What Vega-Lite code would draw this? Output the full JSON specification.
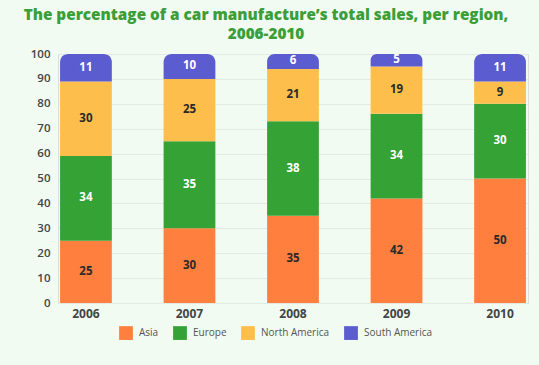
{
  "$schema": "https://vega.github.io/schema/vega-lite/v6.json",
  "width": 470,
  "height": 249,
  "autosize": {"type": "none"},
  "padding": {"left": 58, "top": 54, "right": 11, "bottom": 62},
  "background": "#f1fbf1",
  "config": {
    "axis": {"labelOverlap": false, "labelSeparation": 0, "labelBound": false},
    "axisY": {
      "title": null,
      "domain": false,
      "ticks": false,
      "labelPadding": 8,
      "gridColor": "#e3e9e3",
      "gridWidth": 1,
      "labelFont": "Open Sans",
      "labelFontSize": 11.5,
      "labelFontWeight": 600,
      "labelColor": "#444444"
    }
  },
  "title": {
    "text": ["The percentage of a car manufacture’s total sales, per region,", "2006-2010"],
    "anchor": "middle",
    "frame": "group",
    "dx": -27,
    "offset": 6,
    "font": "Open Sans",
    "fontSize": 15.3,
    "fontWeight": 800,
    "color": "#3a9f3a",
    "lineHeight": 19
  },
  "data": {
    "values": [
      {"year": "2006", "region": "Asia", "order": 1, "value": 25},
      {"year": "2006", "region": "Europe", "order": 2, "value": 34},
      {"year": "2006", "region": "North America", "order": 3, "value": 30},
      {"year": "2006", "region": "South America", "order": 4, "value": 11},
      {"year": "2007", "region": "Asia", "order": 1, "value": 30},
      {"year": "2007", "region": "Europe", "order": 2, "value": 35},
      {"year": "2007", "region": "North America", "order": 3, "value": 25},
      {"year": "2007", "region": "South America", "order": 4, "value": 10},
      {"year": "2008", "region": "Asia", "order": 1, "value": 35},
      {"year": "2008", "region": "Europe", "order": 2, "value": 38},
      {"year": "2008", "region": "North America", "order": 3, "value": 21},
      {"year": "2008", "region": "South America", "order": 4, "value": 6},
      {"year": "2009", "region": "Asia", "order": 1, "value": 42},
      {"year": "2009", "region": "Europe", "order": 2, "value": 34},
      {"year": "2009", "region": "North America", "order": 3, "value": 19},
      {"year": "2009", "region": "South America", "order": 4, "value": 5},
      {"year": "2010", "region": "Asia", "order": 1, "value": 50},
      {"year": "2010", "region": "Europe", "order": 2, "value": 30},
      {"year": "2010", "region": "North America", "order": 3, "value": 9},
      {"year": "2010", "region": "South America", "order": 4, "value": 11}
    ]
  },
  "transform": [
    {"stack": "value", "groupby": ["year"], "sort": [{"field": "order", "order": "ascending"}], "as": ["y0", "y1"]},
    {"calculate": "(datum.y0 + datum.y1) / 2", "as": "mid"}
  ],
  "encoding": {
    "x": {
      "field": "year",
      "type": "nominal",
      "scale": {"paddingInner": 0.5, "paddingOuter": 0.02},
      "axis": {
        "title": null,
        "labelAngle": 0,
        "domain": false,
        "ticks": false,
        "labelPadding": 5,
        "labelFont": "Open Sans",
        "labelFontSize": 12,
        "labelFontWeight": 700,
        "labelColor": "#444444"
      }
    },
    "y": {
      "field": "y0",
      "type": "quantitative",
      "scale": {"domain": [0, 100], "nice": false},
      "axis": {
        "values": {"expr": "[0, 10, 20, 30, 40, 50, 60, 70, 80, 90, 100]"},
        "tickCount": {"expr": "11"},
        "labelOverlap": false
      }
    }
  },
  "layer": [
    {
      "transform": [{"filter": "datum.region !== 'South America'"}],
      "mark": {"type": "bar"},
      "encoding": {
        "y2": {"field": "y1"},
        "color": {
          "field": "region",
          "type": "nominal",
          "scale": {
            "domain": ["Asia", "Europe", "North America", "South America"],
            "range": ["#ff7f3e", "#34a234", "#fdbe4c", "#5b5ccf"]
          },
          "legend": {
            "title": null,
            "orient": "none",
            "direction": "horizontal",
            "legendX": 61,
            "legendY": 272,
            "symbolType": "square",
            "symbolSize": 190,
            "symbolStrokeWidth": 0,
            "symbolOpacity": 1,
            "columnPadding": 14,
            "labelFont": "Open Sans",
            "labelFontSize": 10,
            "labelColor": "#555555",
            "labelOffset": 6
          }
        }
      }
    },
    {
      "transform": [{"filter": "datum.region === 'South America'"}],
      "mark": {"type": "bar", "cornerRadiusTopLeft": 8, "cornerRadiusTopRight": 8},
      "encoding": {
        "y2": {"field": "y1"},
        "color": {"field": "region", "type": "nominal"}
      }
    },
    {
      "mark": {"type": "text", "font": "Open Sans", "fontSize": 11.5, "fontWeight": 700, "baseline": "middle"},
      "encoding": {
        "y": {"field": "mid", "type": "quantitative"},
        "text": {"field": "value", "type": "quantitative"},
        "color": {
          "condition": {"test": "datum.region === 'Europe' || datum.region === 'South America'", "value": "#ffffff"},
          "value": "#2a2a2a"
        }
      }
    }
  ]
}
